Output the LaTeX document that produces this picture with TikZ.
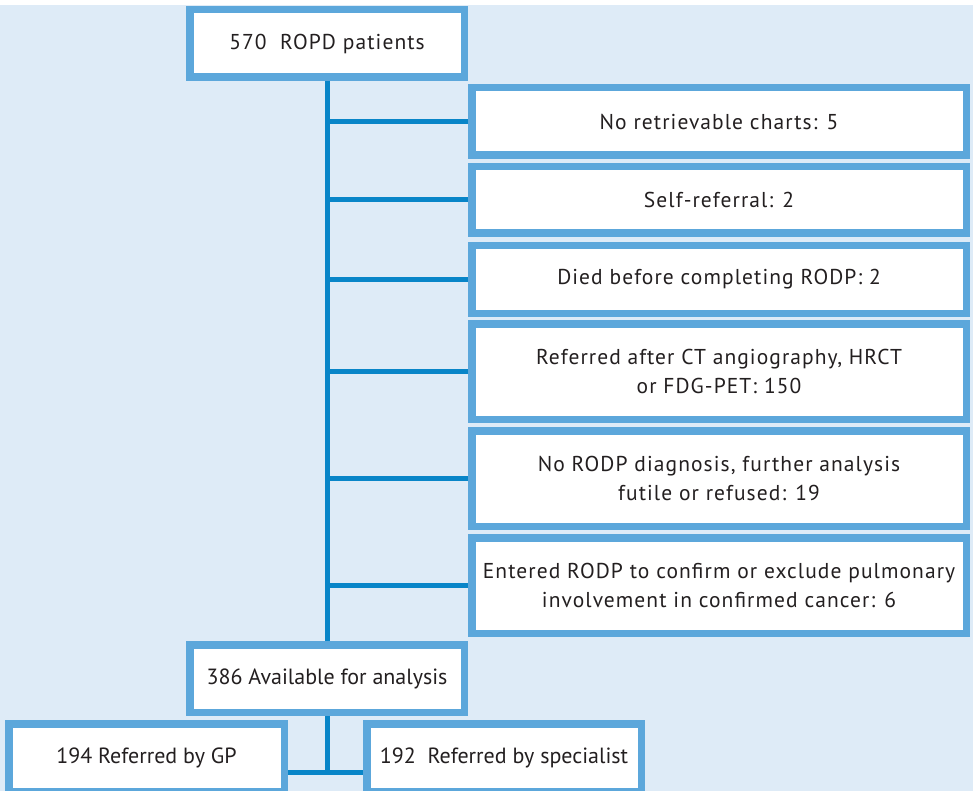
\documentclass[tikz,border=0pt]{standalone}
\usepackage{fontspec}
\setmainfont{PT Sans}
\newfontfamily\wide[LetterSpace=5]{PT Sans}
\definecolor{bg}{RGB}{222,235,247}
\definecolor{bord}{RGB}{92,167,219}
\definecolor{conn}{RGB}{8,133,200}
\definecolor{txt}{RGB}{35,31,32}
\begin{document}
\begin{tikzpicture}[x=1pt,y=-1pt,
  box/.style={draw=bord, fill=white, line width=7.5pt, inner sep=0pt, align=center, text=txt, font=\fontsize{22}{29}\selectfont},
  wbox/.style={box, font=\wide\fontsize{21.5}{29}\selectfont},
  rbox/.style={wbox, minimum width=494.5pt},
  conn/.style={draw=conn, line width=5pt}]
\useasboundingbox (0,0) rectangle (973,791);
\fill[white] (0,0) rectangle (973,791);
\fill[bg] (0,5) rectangle (973,791);
\node[wbox, minimum width=274.5pt, minimum height=67.5pt] (top) at (327,43.5) {570~~ROPD patients};
\node[rbox, minimum height=67.5pt] (b1) at (719,121.5) {No retrievable charts: 5};
\node[rbox, minimum height=66.5pt] (b2) at (719,200) {Self-referral: 2};
\node[rbox, minimum height=67.5pt] (b3) at (719,279.5) {Died before completing RODP: 2};
\node[rbox, minimum height=95.5pt] (b4) at (719,371.5) {Referred after CT angiography, HRCT\\or FDG-PET: 150};
\node[rbox, minimum height=95.5pt] (b5) at (719,478.5) {No RODP diagnosis, further analysis\\futile or refused: 19};
\node[rbox, minimum height=95.5pt] (b6) at (719,585.5) {Entered RODP to confirm or exclude pulmonary\\involvement in confirmed cancer: 6};
\node[box, minimum width=274.5pt, minimum height=67.5pt] (avail) at (327,678.5) {386 Available for analysis};
\node[box, minimum width=275.5pt, minimum height=67.5pt] (gp) at (146.5,757.5) {194 Referred by GP};
\node[box, minimum width=274.5pt, minimum height=67.5pt] (spec) at (504,757.5) {192~~Referred by specialist};
\coordinate (j) at (327,772);
\path[conn] (top.south) -- (avail.north);
\foreach \b in {b1,b2,b3,b4,b5,b6}{\path[conn] (\b.west) -- (\b.west -| top.south);}
\path[conn] (avail.south) -- (j);
\path[conn] (gp.east |- j) -- (spec.west |- j);
\end{tikzpicture}
\end{document}
